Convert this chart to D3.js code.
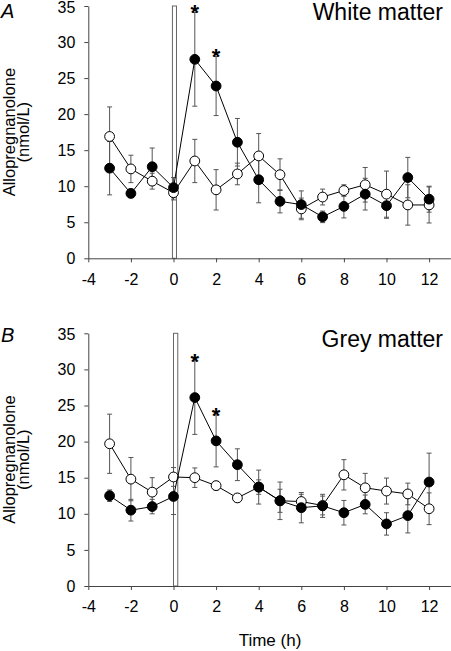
<!DOCTYPE html>
<html>
<head>
<meta charset="utf-8">
<script src="https://cdn.jsdelivr.net/npm/d3@7"></script>
<style>
  html, body { margin: 0; padding: 0; background: #fff; }
  svg { display: block; }
  text { font-family: Arial, "Liberation Sans", sans-serif; fill: #000; }
</style>
</head>
<body>
<script>
// ---------- data ----------
const times = [-3, -2, -1, 0, 1, 2, 3, 4, 5, 6, 7, 8, 9, 10, 11, 12];

const whiteFilled    = [12.5, 9.0, 12.7, 9.8, 27.6, 23.9, 16.1, 10.9, 7.9, 7.45, 5.75, 7.2, 8.9, 7.3, 11.2, 8.2];
const whiteFilledErr = [3.7, 0.6, 2.6, 1.4, 6.5, 4.1, 3.3, 3.2, 1.6, 1.9, 0.8, 1.6, 2.2, 1.75, 2.8, 1.8];
const whiteOpen      = [16.9, 12.4, 10.7, 9.1, 13.5, 9.5, 11.7, 14.2, 11.6, 6.85, 8.5, 9.4, 10.2, 8.9, 7.4, 7.4];
const whiteOpenErr   = [4.1, 1.9, 1.1, 1.0, 3.0, 2.8, 1.5, 3.1, 2.2, 1.5, 1.1, 0.8, 2.4, 3.2, 2.8, 2.5];

const greyFilled     = [12.5, 10.5, 11.0, 12.4, 26.1, 20.1, 16.8, 13.7, 11.8, 10.85, 11.1, 10.15, 11.3, 8.6, 9.75, 14.4];
const greyFilledErr  = [0.8, 1.5, 1.0, 2.5, 5.1, 3.6, 2.2, 2.35, 2.6, 2.1, 1.6, 1.7, 1.3, 1.55, 2.4, 4.0];
const greyOpen       = [19.7, 14.8, 13.0, 15.1, 15.0, 13.9, 12.2, 13.7, 11.8, 11.7, 11.15, 15.4, 13.6, 13.15, 12.75, 10.7];
const greyOpenErr    = [4.1, 3.0, 2.0, 1.3, 1.35, 0.6, 0.6, 1.0, 1.6, 1.0, 1.3, 2.1, 2.0, 1.8, 1.5, 2.2];

const starTimes = [1, 2];
const xTicks = [-4, -2, 0, 2, 4, 6, 8, 10, 12];
const yTicks = [0, 5, 10, 15, 20, 25, 30, 35];
const xDomain = [-4, 13];
const yDomain = [0, 35];
const whiteBar = [-0.05, 0.14];
const greyBar = [0, 0.2];

const panels = [
  { letter: "A", title: "White matter", filled: whiteFilled, filledErr: whiteFilledErr,
    open: whiteOpen, openErr: whiteOpenErr, bar: whiteBar },
  { letter: "B", title: "Grey matter", filled: greyFilled, filledErr: greyFilledErr,
    open: greyOpen, openErr: greyOpenErr, bar: greyBar }
];

// ---------- layout ----------
const layout = [
  { top: 6, bottom: 258.3, letterY: 17.5, titleY: 20 },
  { top: 333.3, bottom: 586, letterY: 341.5, titleY: 346.5 }
];

// ---------- drawing ----------
const W = 451, H = 651;
const svg = d3.select("body").append("svg").attr("width", W).attr("height", H);

const x = d3.scaleLinear().domain(xDomain).range([88.3, 450.4]);
const axisColor = "#444";
const errColor = "#555";
const R = 4.9;
const fmt = d => String(d);

panels.forEach((p, pi) => {
  const L = layout[pi];
  const y = d3.scaleLinear().domain(yDomain).range([L.bottom, L.top]);
  const g = svg.append("g");

  // stimulus bar at time 0
  g.append("rect")
    .attr("x", x(p.bar[0])).attr("width", x(p.bar[1]) - x(p.bar[0]))
    .attr("y", y(yDomain[1])).attr("height", y(0) - y(yDomain[1]))
    .attr("fill", "#fff").attr("stroke", "#666").attr("stroke-width", 1);

  // axes
  const yAxis = d3.axisLeft(y).tickValues(yTicks).tickFormat(fmt).tickSize(4).tickSizeOuter(0).tickPadding(9);
  const xAxis = d3.axisBottom(x).tickValues(xTicks).tickFormat(fmt).tickSize(4).tickSizeOuter(0).tickPadding(11);
  const ya = g.append("g").attr("transform", `translate(${x(xDomain[0])},0)`).call(yAxis);
  const xa = g.append("g").attr("transform", `translate(0,${y(0)})`).call(xAxis);
  [ya, xa].forEach(a => {
    a.selectAll("path, line").attr("stroke", axisColor).attr("stroke-width", 1);
    a.selectAll("text").attr("font-size", 16).attr("font-family", "Arial, 'Liberation Sans', sans-serif").attr("fill", "#000");
  });
  // nudge the topmost y label so it stays inside the frame
  ya.selectAll(".tick text").filter(d => d === yDomain[1]).attr("dy", "0.4em");

  const series = [
    { vals: p.open, errs: p.openErr, fill: "#fff" },
    { vals: p.filled, errs: p.filledErr, fill: "#000" }
  ];

  // error bars first
  series.forEach(s => {
    const eg = g.append("g").attr("stroke", errColor).attr("stroke-width", 1).attr("fill", "none");
    times.forEach((t, i) => {
      const cx = x(t), y1 = y(s.vals[i] + s.errs[i]), y2 = y(s.vals[i] - s.errs[i]);
      eg.append("line").attr("x1", cx).attr("x2", cx).attr("y1", y1).attr("y2", y2);
      eg.append("line").attr("x1", cx - 2.5).attr("x2", cx + 2.5).attr("y1", y1).attr("y2", y1);
      eg.append("line").attr("x1", cx - 2.5).attr("x2", cx + 2.5).attr("y1", y2).attr("y2", y2);
    });
  });

  const line = d3.line().x(d => x(d[0])).y(d => y(d[1]));
  series.forEach(s => {
    const pts = times.map((t, i) => [t, s.vals[i]]);
    g.append("path").datum(pts).attr("d", line)
      .attr("fill", "none").attr("stroke", "#000").attr("stroke-width", 1);
    g.selectAll(null).data(pts).enter().append("circle")
      .attr("cx", d => x(d[0])).attr("cy", d => y(d[1])).attr("r", R)
      .attr("fill", s.fill).attr("stroke", "#000").attr("stroke-width", 1);
  });

  // significance stars
  starTimes.forEach(t => {
    const i = times.indexOf(t);
    g.append("text")
      .attr("x", x(t)).attr("y", y(p.filled[i] + p.filledErr[i]) + 8)
      .attr("text-anchor", "middle").attr("font-size", 22).attr("font-weight", "bold")
      .text("*");
  });

  // title
  g.append("text").attr("x", 443).attr("y", L.titleY)
    .attr("text-anchor", "end").attr("font-size", 23).text(p.title);

  // panel letter
  g.append("text").attr("x", 1).attr("y", L.letterY)
    .attr("font-size", 20).attr("font-style", "italic").text(p.letter);

  // y-axis label
  const cy = (L.top + L.bottom) / 2;
  g.append("text").attr("transform", `translate(15,${cy}) rotate(-90)`)
    .attr("text-anchor", "middle").attr("font-size", 16.5).text("Allopregnanolone");
  g.append("text").attr("transform", `translate(28.5,${cy}) rotate(-90)`)
    .attr("text-anchor", "middle").attr("font-size", 16.5).text("(nmol/L)");
});

// x-axis label
svg.append("text").attr("x", 270).attr("y", 646).attr("text-anchor", "middle")
  .attr("font-size", 17).text("Time (h)");
</script>
</body>
</html>
